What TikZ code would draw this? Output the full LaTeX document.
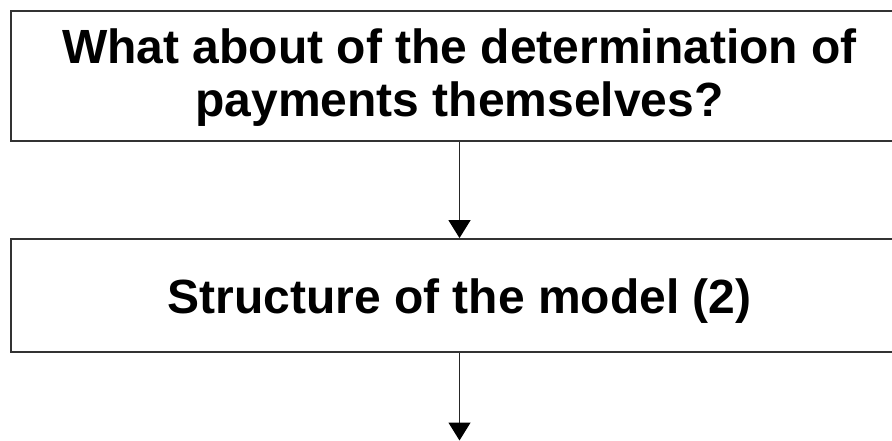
\documentclass[tikz,border=0pt]{standalone}
\usepackage{fontspec}
\setmainfont{Liberation Sans}
\usetikzlibrary{arrows.meta}
\newcommand{\lowertext}[2]{\raisebox{-#1}[\height][\depth]{#2}}
\begin{document}
\begin{tikzpicture}[x=1pt,y=-1pt,
  flowbox/.style={draw=black!80, line width=1.8pt, fill=white, rectangle,
    minimum width=897pt, inner sep=0pt, align=center,
    font=\fontsize{48}{54}\selectfont\bfseries},
  flowarrow/.style={draw=black!85, line width=1.3pt,
    -{Triangle[width=22pt,length=18pt,color=black]}}]
  \useasboundingbox (0,0) rectangle (892,441);
  \clip (0,0) rectangle (892,441);
  % question box at the top
  \node[flowbox, minimum height=130pt] (question) at (459.5,76)
    {\lowertext{3pt}{\begin{tabular}{@{}c@{}}What about of the determination of\\[-1pt]payments themselves?\end{tabular}}};
  % model structure box
  \node[flowbox, minimum height=113pt] (structure) at (459.5,295.5)
    {\lowertext{6pt}{Structure of the model (2)}};
  \coordinate (next) at (459.5,440.5);
  \draw[flowarrow] (question.south) -- (structure.north);
  \draw[flowarrow] (structure.south) -- (next);
\end{tikzpicture}
\end{document}
